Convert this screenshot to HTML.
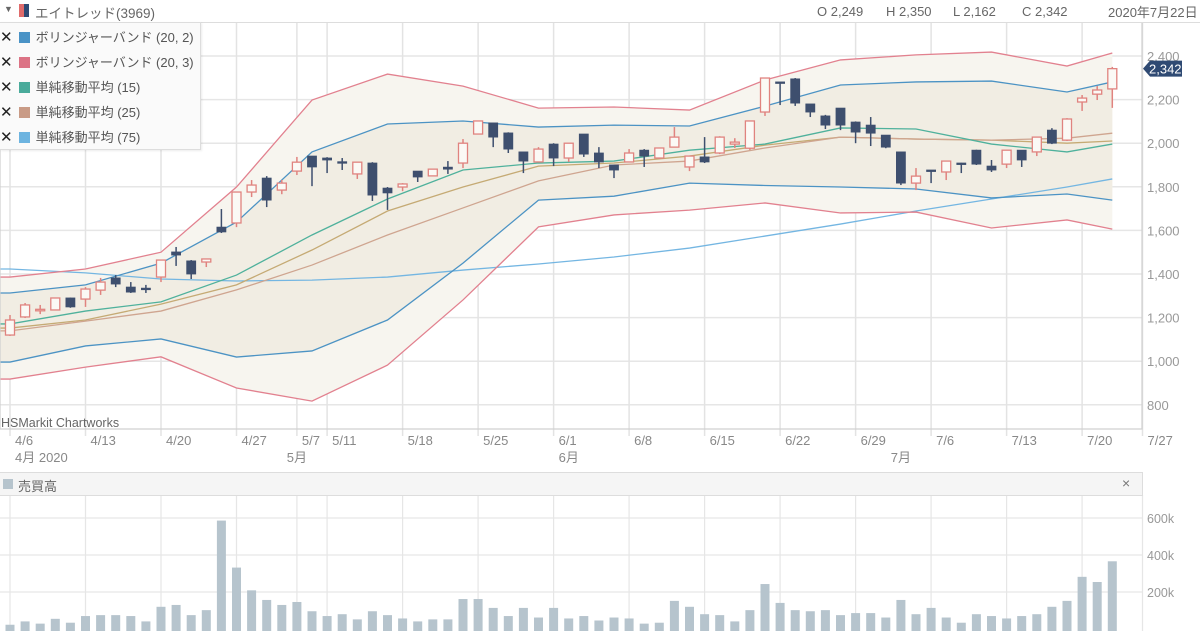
<!DOCTYPE html>
<html><head><meta charset="utf-8"><style>
html,body{margin:0;padding:0;background:#fff;overflow:hidden}
svg{display:block;font-family:"Liberation Sans","Noto Sans CJK JP",sans-serif}
</style></head><body>
<svg id="c" width="1200" height="631" viewBox="0 0 1200 631" xmlns="http://www.w3.org/2000/svg">
<g id="grid"></g>
<g id="bands"></g>
<g id="lines"></g>
<g id="candles"></g>
<g id="vol"></g>
<g id="axes"></g>
<g id="ui"></g>
</svg>
<script>
const opens=[1120,1203,1235,1235,1290,1285,1326,1382,1340,1335,1386,1501,1460,1455,1615,1634,1776,1840,1785,1872,1941,1932,1915,1859,1909,1794,1799,1872,1850,1890,1909,2042,2093,2047,1960,1914,1996,1932,2042,1955,1900,1914,1968,1932,1982,1891,1937,1955,1996,1977,2143,2281,2295,2180,2125,2161,2097,2083,2037,1960,1817,1877,1868,1909,1968,1895,1904,1968,1960,2060,2014,2189,2225,2249];
const highs=[1212,1267,1258,1292,1292,1340,1382,1395,1363,1350,1464,1524,1464,1469,1698,1776,1831,1849,1831,1937,1941,1936,1932,1913,1913,1799,1817,1872,1881,1918,2019,2102,2093,2050,1960,1982,2000,2000,2042,1982,1900,1973,1973,1978,2074,1941,2028,2032,2023,2102,2299,2281,2299,2180,2130,2161,2100,2120,2037,1960,1886,1877,1918,1910,1970,1923,1970,1968,2028,2069,2115,2221,2262,2350];
const lows=[1116,1198,1216,1233,1245,1249,1304,1340,1313,1313,1363,1437,1377,1432,1588,1615,1753,1707,1766,1854,1803,1863,1877,1836,1735,1694,1780,1822,1850,1859,1886,2042,1982,1955,1863,1914,1895,1914,1937,1886,1840,1914,1891,1928,1982,1872,1909,1950,1978,1969,2125,2175,2171,2120,2065,2060,2000,1987,1977,1808,1785,1817,1831,1863,1900,1868,1886,1891,1941,1996,2010,2148,2198,2162];
const closes=[1189,1258,1238,1290,1249,1331,1363,1354,1317,1328,1464,1487,1400,1469,1593,1776,1808,1739,1817,1913,1891,1923,1911,1913,1762,1772,1813,1845,1881,1881,2000,2102,2028,1973,1918,1973,1932,2000,1950,1914,1877,1955,1941,1978,2028,1941,1914,2028,2005,2102,2299,2276,2184,2143,2083,2083,2051,2046,1982,1817,1849,1872,1918,1904,1904,1877,1968,1923,2028,2000,2111,2207,2244,2342];
const volumes=[23,41,29,55,34,70,75,75,70,41,120,130,75,102,586,332,209,157,130,146,96,70,80,52,96,75,57,41,52,52,162,162,114,70,114,62,114,57,70,46,62,57,29,34,152,120,80,75,41,102,243,141,102,96,102,75,86,86,62,157,80,114,62,34,80,70,57,70,80,120,152,282,254,366];
const lineIdx=[0,5,10,15,20,25,30,35,40,45,50,55,60,65,70,73];
const bb3Upper=[1386,1423,1500,1799,2198,2317,2262,2161,2166,2152,2290,2382,2405,2418,2354,2414];
const bb3Lower=[918,973,1020,877,817,982,1281,1616,1671,1693,1726,1680,1684,1611,1648,1606];
const bb2Upper=[1313,1350,1450,1638,1960,2088,2102,2074,2083,2079,2170,2267,2281,2285,2235,2281];
const bb2Lower=[996,1070,1102,1019,1047,1189,1450,1739,1757,1817,1806,1799,1790,1749,1767,1739];
const bbMid=[1152,1189,1262,1350,1510,1689,1799,1895,1909,1941,1991,2028,2019,2014,2000,2010];
const sma15=[1171,1230,1272,1395,1579,1744,1877,1909,1918,1968,1996,2070,2065,1996,1960,1996];
const sma25=[1139,1184,1230,1327,1441,1579,1703,1827,1900,1918,1978,2028,2019,2014,2023,2046];
const sma75=[1423,1405,1377,1368,1372,1386,1418,1446,1478,1519,1574,1629,1689,1744,1799,1836];
const priceTicks=[2400,2200,2000,1800,1600,1400,1200,1000,800];
const priceTickLabels=["2,400","2,200","2,000","1,800","1,600","1,400","1,200","1,000","800"];
const volTicks=[600,400,200];
const volTickLabels=["600k","400k","200k"];
const dateTickIdx=[0,5,10,15,19,21,26,31,36,41,46,51,56,61,66,71,75];
const dateTickLabels=["4/6","4/13","4/20","4/27","5/7","5/11","5/18","5/25","6/1","6/8","6/15","6/22","6/29","7/6","7/13","7/20","7/27"];
const monthIdx=[0,18,36,58];
const monthLabels=["4月 2020","5月","6月","7月"];

const NS="http://www.w3.org/2000/svg";
const X=i=>10+i*15.1;
const Y=v=>56+(2400-v)*0.218;
const VY=v=>629-v*37/200;
function mk(t,a,p,txt){const e=document.createElementNS(NS,t);for(const k in a)e.setAttribute(k,a[k]);if(txt!==undefined)e.textContent=txt;p.appendChild(e);return e;}
const G=id=>document.getElementById(id);
const grid=G('grid'),bands=G('bands'),lines=G('lines'),cg=G('candles'),vg=G('vol'),ax=G('axes'),ui=G('ui');

// grid
priceTicks.forEach(v=>{const l=mk('line',{x1:0,x2:1142,y1:Y(v),y2:Y(v),stroke:'#e6e6e6','stroke-width':1.5},grid);

});
volTicks.forEach(v=>{const l=mk('line',{x1:0,x2:1142,y1:VY(v),y2:VY(v),stroke:'#e8e8e8','stroke-width':1.2},grid);

});
dateTickIdx.forEach(i=>{const l=mk('line',{x1:X(i),x2:X(i),y1:22,y2:436,stroke:'#e3e3e3','stroke-width':1.5},grid);


const l2=mk('line',{x1:X(i),x2:X(i),y1:495,y2:631,stroke:'#e6e6e6','stroke-width':1.2},grid);

});

// bands
function pts(arr){const p=[[0,Y(arr[0])]];lineIdx.forEach((i,k)=>p.push([X(i),Y(arr[k])]));return p;}
function poly(up,lo,fill,name){const a=pts(up),b=pts(lo).reverse();const e=mk('polygon',{points:a.concat(b).map(p=>p.join(',')).join(' '),fill:fill},bands);

}
poly(bb3Upper,bb3Lower,'#f7f5ef','bb3-fill');
poly(bb2Upper,bb2Lower,'#f1ede3','bb2-fill');
function line(arr,col,name){const e=mk('polyline',{points:pts(arr).map(p=>p.join(',')).join(' '),fill:'none',stroke:col,'stroke-width':1.3},lines);

}
line(sma75,'#74b6e2','sma75-line');
line(bbMid,'#c5aa74','bb-middle-line');
line(sma25,'#cfa590','sma25-line');
line(sma15,'#4fb19c','sma15-line');
line(bb2Upper,'#4c93c4','bb2-upper-line');
line(bb2Lower,'#4c93c4','bb2-lower-line');
line(bb3Upper,'#e2818f','bb3-upper-line');
line(bb3Lower,'#e2818f','bb3-lower-line');

// candles
opens.forEach((o,i)=>{const c=closes[i],up=c>=o,col=up?'#e0837f':'#3e4f6e',x=X(i);
const w=mk('line',{x1:x,x2:x,y1:Y(highs[i]),y2:Y(lows[i]),stroke:col,'stroke-width':1.5},cg);


const t=Math.min(Y(o),Y(c)),h=Math.max(1.5,Math.abs(Y(o)-Y(c)));
const b=mk('rect',{x:x-4.5,y:t,width:9,height:h,fill:up?'#fbf9f5':col,stroke:col,'stroke-width':up?1.3:0.8},cg);

});

// volume
volumes.forEach((v,i)=>{const b=mk('rect',{x:X(i)-4.5,y:VY(v),width:9,height:629-VY(v)+2,fill:'#b6c4cd'},vg);

});

// axes
mk('rect',{x:0,y:22,width:1142,height:407,fill:'none',stroke:'#cfcfcf','stroke-width':1.2},ax);
priceTicks.forEach((v,k)=>{const t=mk('text',{x:1147,y:Y(v)+5,'font-size':13,fill:'#999'},ax,priceTickLabels[k]);

});
volTicks.forEach((v,k)=>{const t=mk('text',{x:1147,y:VY(v)+5,'font-size':12.5,fill:'#999'},ax,volTickLabels[k]);

});
dateTickIdx.forEach((i,k)=>{const t=mk('text',{x:X(i)+5,y:445,'font-size':13,fill:'#888'},ax,dateTickLabels[k]);

});
monthIdx.forEach((i,k)=>{const t=mk('text',{x:X(i)+5,y:462,'font-size':13,fill:'#888'},ax,monthLabels[k]);

});
// last price tag
const ly=Y(closes[closes.length-1]);
const tag=mk('g',{},ax);


mk('polygon',{points:`1143,${ly} 1150,${ly-8} 1182,${ly-8} 1182,${ly+8} 1150,${ly+8}`,fill:'#2f4a73'},tag);
mk('text',{x:1149,y:ly+5,'font-size':13,fill:'#fff'},tag,'2,342');
</script>
<div style="position:absolute;left:0;top:0;width:1200px;height:631px;pointer-events:none;font-family:'Liberation Sans','Noto Sans CJK JP',sans-serif">
  <div style="position:absolute;left:0;top:0;width:1200px;height:22px;border-bottom:1px solid #ddd;background:#fff">
    <span style="position:absolute;left:4px;top:4px;font-size:9px;color:#666">▼</span>
    <span style="position:absolute;left:19px;top:4px;width:5px;height:13px;background:#e06b6b"></span>
    <span style="position:absolute;left:24px;top:4px;width:5px;height:13px;background:#2f4a73"></span>
    <span style="position:absolute;left:35px;top:2px;font-size:13.5px;color:#666">エイトレッド(3969)</span>
    <span style="position:absolute;left:817px;top:4px;font-size:13px;color:#666">O 2,249</span>
    <span style="position:absolute;left:886px;top:4px;font-size:13px;color:#666">H 2,350</span>
    <span style="position:absolute;left:953px;top:4px;font-size:13px;color:#666">L 2,162</span>
    <span style="position:absolute;left:1022px;top:4px;font-size:13px;color:#666">C 2,342</span>
    <span style="position:absolute;left:1108px;top:2px;font-size:13px;color:#666">2020年7月22日</span>
  </div>
  <div style="position:absolute;left:0;top:22px;width:200px;height:126px;background:#fafafa;border:1px solid #ddd;border-left:none;box-shadow:1px 1px 2px rgba(0,0,0,.08)">
    <div style="position:absolute;left:0;top:4px;height:18px;font-size:13px;color:#555;white-space:nowrap"><span style="font-size:15px;color:#222">✕</span><span style="display:inline-block;width:11px;height:11px;background:#4a93c6;margin:0 6px 0 6px;vertical-align:-1px"></span>ボリンジャーバンド (20, 2)</div>
    <div style="position:absolute;left:0;top:29px;height:18px;font-size:13px;color:#555;white-space:nowrap"><span style="font-size:15px;color:#222">✕</span><span style="display:inline-block;width:11px;height:11px;background:#dc7385;margin:0 6px 0 6px;vertical-align:-1px"></span>ボリンジャーバンド (20, 3)</div>
    <div style="position:absolute;left:0;top:54px;height:18px;font-size:13px;color:#555;white-space:nowrap"><span style="font-size:15px;color:#222">✕</span><span style="display:inline-block;width:11px;height:11px;background:#4aab9b;margin:0 6px 0 6px;vertical-align:-1px"></span>単純移動平均 (15)</div>
    <div style="position:absolute;left:0;top:79px;height:18px;font-size:13px;color:#555;white-space:nowrap"><span style="font-size:15px;color:#222">✕</span><span style="display:inline-block;width:11px;height:11px;background:#c99b86;margin:0 6px 0 6px;vertical-align:-1px"></span>単純移動平均 (25)</div>
    <div style="position:absolute;left:0;top:104px;height:18px;font-size:13px;color:#555;white-space:nowrap"><span style="font-size:15px;color:#222">✕</span><span style="display:inline-block;width:11px;height:11px;background:#6db4e0;margin:0 6px 0 6px;vertical-align:-1px"></span>単純移動平均 (75)</div>
  </div>
  <div style="position:absolute;left:1px;top:416px;font-size:12.5px;color:#666">HSMarkit Chartworks</div>
  <div style="position:absolute;left:0;top:472px;width:1142px;height:22px;background:#f5f5f5;border-top:1px solid #ddd;border-bottom:1px solid #ddd;border-right:1px solid #ddd">
    <span style="position:absolute;left:3px;top:6px;width:10px;height:10px;background:#b6c4cd"></span>
    <span style="position:absolute;left:18px;top:3px;font-size:13px;color:#666">売買高</span>
    <span style="position:absolute;left:1122px;top:2px;font-size:14px;color:#777">×</span>
  </div>
</div>
</body></html>
